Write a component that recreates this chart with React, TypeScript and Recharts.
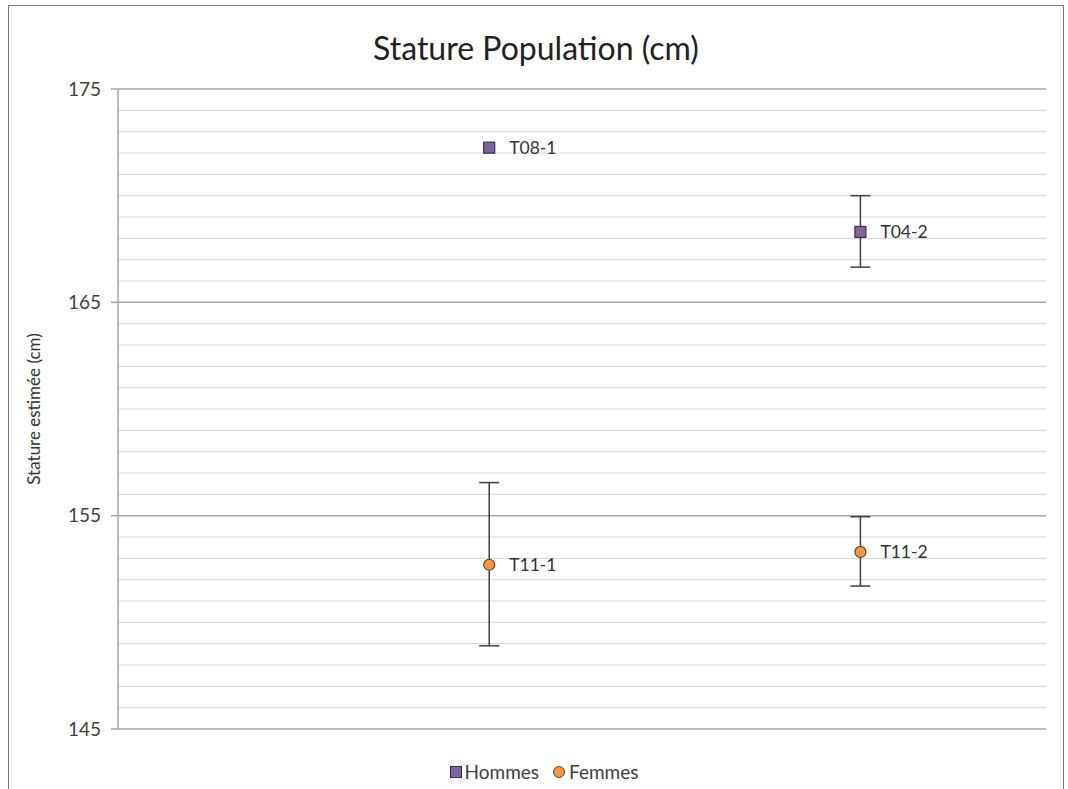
import {
  ScatterChart,
  Scatter,
  XAxis,
  YAxis,
  ErrorBar,
  LabelList,
  Legend,
  ReferenceLine,
  Label,
} from "recharts";

// x position of each tomb along the (hidden) horizontal axis
const hommesNames = ["T08-1", "T04-2"];
const hommesX = [1, 2];
const hommesStature = [172.25, 168.3];
const hommesErr: (number[] | null)[] = [null, [1.65, 1.7]];

const femmesNames = ["T11-1", "T11-2"];
const femmesX = [1, 2];
const femmesStature = [152.7, 153.3];
const femmesErr: (number[] | null)[] = [[3.8, 3.85], [1.6, 1.65]];

const yTicks = [145, 155, 165, 175];
const yDomain: [number, number] = [145, 175];
const xDomain: [number, number] = [0, 2.5];

// one light grid line per cm
const minorGrid = Array.from(
  { length: yDomain[1] - yDomain[0] + 1 },
  (_, i) => yDomain[0] + i
).filter((v) => !yTicks.includes(v));

const hommes = hommesNames.map((name, i) => ({
  name,
  x: hommesX[i],
  y: hommesStature[i],
  err: hommesErr[i],
}));
const femmes = femmesNames.map((name, i) => ({
  name,
  x: femmesX[i],
  y: femmesStature[i],
  err: femmesErr[i],
}));

const PURPLE = "#8064a2";
const PURPLE_EDGE = "#3b2d4f";
const ORANGE = "#f79646";
const ORANGE_EDGE = "#6e4017";
const FONT = "Lato, 'Open Sans', sans-serif";

const SquareMarker = (props: any) => {
  const { cx, cy } = props;
  return (
    <rect x={cx - 5.5} y={cy - 5.5} width={11} height={11} fill={PURPLE} stroke={PURPLE_EDGE} strokeWidth={1.2} />
  );
};

const CircleMarker = (props: any) => {
  const { cx, cy } = props;
  return <circle cx={cx} cy={cy} r={5.5} fill={ORANGE} stroke={ORANGE_EDGE} strokeWidth={1.2} />;
};

const PointLabel = (props: any) => {
  const { x, y, width, height, value } = props;
  return (
    <text
      x={x + width / 2 + 20}
      y={y + height / 2}
      dominantBaseline="central"
      fontFamily={FONT}
      fontSize={17.5}
      fill="#333"
    >
      {value}
    </text>
  );
};

const LegendContent = () => (
  <div
    style={{
      display: "flex",
      justifyContent: "center",
      alignItems: "center",
      fontFamily: FONT,
      fontSize: 19,
      color: "#404040",
      paddingLeft: 20,
    }}
  >
    <span style={{ display: "inline-block", width: 10, height: 10, background: PURPLE, border: `1px solid ${PURPLE_EDGE}`, marginRight: 3 }} />
    <span style={{ marginRight: 14 }}>Hommes</span>
    <span style={{ display: "inline-block", width: 10, height: 10, borderRadius: "50%", background: ORANGE, border: `1px solid ${ORANGE_EDGE}`, marginRight: 4 }} />
    <span>Femmes</span>
  </div>
);

export default function App() {
  return (
    <div style={{ position: "absolute", left: 0, top: 0, width: 1068, height: 789, background: "#fff", overflow: "hidden" }}>
      <div
        style={{
          position: "absolute",
          left: 8,
          top: 5,
          width: 1054,
          height: 800,
          border: "1.5px solid #777",
        }}
      />
      <div
        style={{
          position: "absolute",
          left: 286,
          top: 29,
          width: 500,
          textAlign: "center",
          fontFamily: FONT,
          fontSize: 32,
          lineHeight: "38px",
          color: "#222",
        }}
      >
        Stature Population (cm)
      </div>
      <div style={{ position: "absolute", left: 0, top: 0 }}>
        <ScatterChart width={1068} height={789} margin={{ top: 89, right: 22, bottom: 60, left: 58 }}>
          <XAxis type="number" dataKey="x" domain={xDomain} hide />
          <YAxis
            type="number"
            dataKey="y"
            domain={yDomain}
            ticks={yTicks}
            width={60}
            tickSize={7}
            tickMargin={10}
            axisLine={{ stroke: "#a6a6a6", strokeWidth: 1.5 }}
            tickLine={{ stroke: "#a6a6a6", strokeWidth: 1.5 }}
            tick={{ fontSize: 19, fill: "#404040", fontFamily: FONT }}
          >
            <Label
              content={(p: any) => {
                const vb = p.viewBox;
                const cx = vb.x - 25;
                const cy = vb.y + vb.height / 2;
                return (
                  <text
                    x={cx}
                    y={cy}
                    transform={`rotate(-90 ${cx} ${cy})`}
                    textAnchor="middle"
                    dominantBaseline="central"
                    fontFamily={FONT}
                    fontSize={17}
                    fill="#333"
                  >
                    Stature estimée (cm)
                  </text>
                );
              }}
            />
          </YAxis>
          {minorGrid.map((v) => (
            <ReferenceLine key={`m${v}`} y={v} stroke="#dcdcdc" strokeWidth={1.2} />
          ))}
          {yTicks.map((t) => (
            <ReferenceLine key={t} y={t} stroke="#a6a6a6" strokeWidth={1.5} />
          ))}
          <Legend
            verticalAlign="middle"
            align="center"
            layout="horizontal"
            wrapperStyle={{ top: 760, left: 0, width: 1068 }}
            content={<LegendContent />}
          />
          <Scatter name="Hommes" data={hommes} shape={<SquareMarker />} isAnimationActive={false}>
            <ErrorBar dataKey="err" direction="y" width={10} stroke="#404040" strokeWidth={1.5} />
            <LabelList dataKey="name" content={<PointLabel />} />
          </Scatter>
          <Scatter name="Femmes" data={femmes} shape={<CircleMarker />} isAnimationActive={false}>
            <ErrorBar dataKey="err" direction="y" width={10} stroke="#404040" strokeWidth={1.5} />
            <LabelList dataKey="name" content={<PointLabel />} />
          </Scatter>
        </ScatterChart>
      </div>
    </div>
  );
}
